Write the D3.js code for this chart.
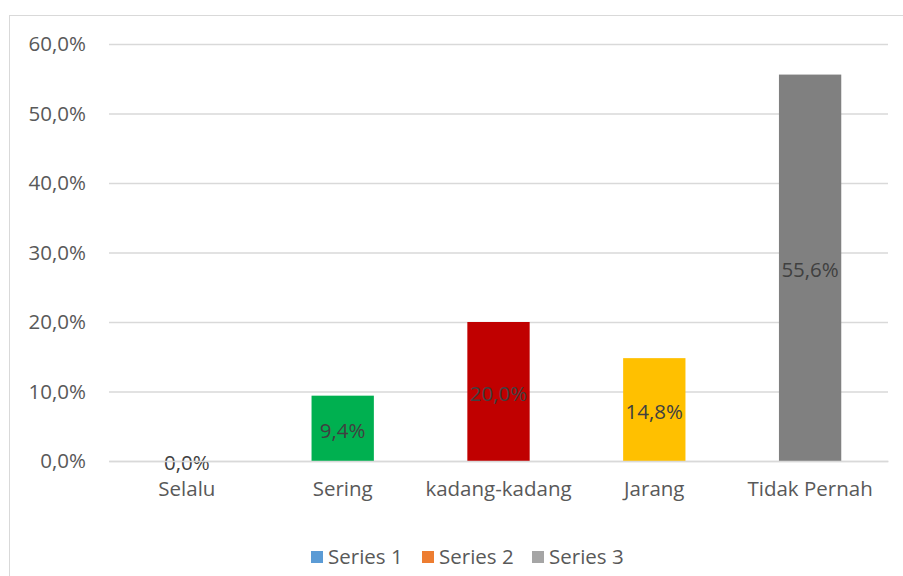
<!DOCTYPE html>
<html><head><meta charset="utf-8">
<script src="https://cdn.jsdelivr.net/npm/d3@7"></script>
<style>body{margin:0;background:#fff}svg{display:block}text{font-family:"Open Sans",sans-serif}</style>
</head><body><svg id="c" width="903" height="576"></svg>
<script>
const categories = ["Selalu","Sering","kadang-kadang","Jarang","Tidak Pernah"];
const values = [0.0, 9.4, 20.0, 14.8, 55.6];
const barColors = ["#5B9BD5","#00B050","#C00000","#FFC000","#808080"];
const yTicks = [0,10,20,30,40,50,60];
const legendNames = ["Series 1","Series 2","Series 3"];
const legendColors = ["#5B9BD5","#ED7D31","#A5A5A5"];

const FS = "20.5px";
const svg = d3.select("#c");
const fmt = v => v.toFixed(1).replace(".", ",") + "%";
svg.append("rect").attr("x",9.5).attr("y",15.5).attr("width",900).attr("height",570)
  .attr("fill","#fff").attr("stroke","#D9D9D9");

const x = d3.scaleBand().domain(categories).range([109,888]).paddingInner(0.6).paddingOuter(0.3);
const y = d3.scaleLinear().domain([0,60]).range([461,44]);

const yAxis = svg.append("g").attr("transform","translate(109,0)")
  .call(d3.axisLeft(y).tickValues(yTicks).tickFormat(fmt).tickSize(-779).tickPadding(23));
yAxis.select(".domain").remove();
yAxis.selectAll("line").attr("stroke","#D9D9D9").attr("stroke-width",1.3);
yAxis.selectAll("text").attr("fill","#595959").attr("font-size",FS).attr("font-family","'Open Sans',sans-serif");

svg.selectAll(".bar").data(values).join("rect")
  .attr("x",(d,i)=>x(categories[i])).attr("width",x.bandwidth())
  .attr("y",d=>y(d)).attr("height",d=>y(0)-y(d))
  .attr("fill",(d,i)=>barColors[i]);

svg.selectAll(".lbl").data(values).join("text")
  .attr("x",(d,i)=>x(categories[i])+x.bandwidth()/2)
  .attr("y",d=>(y(d)+y(0))/2+2)
  .attr("dy","0.35em").attr("text-anchor","middle")
  .attr("fill","#404040").attr("font-size",FS).text(fmt);

const xAxis = svg.append("g").attr("transform","translate(0,461)")
  .call(d3.axisBottom(x).tickSize(0).tickPadding(20));
xAxis.select(".domain").attr("stroke","#D9D9D9").attr("stroke-width",1.3);
xAxis.selectAll("text").attr("fill","#595959").attr("font-size",FS).attr("font-family","'Open Sans',sans-serif");

const lg = svg.append("g");
const lx = [311,422,532];
legendNames.forEach((n,i)=>{
  lg.append("rect").attr("x",lx[i]).attr("y",551).attr("width",12).attr("height",12).attr("fill",legendColors[i]);
  lg.append("text").attr("x",lx[i]+17).attr("y",557).attr("dy","0.35em")
    .attr("fill","#595959").attr("font-size",FS).text(n);
});
</script></body></html>
